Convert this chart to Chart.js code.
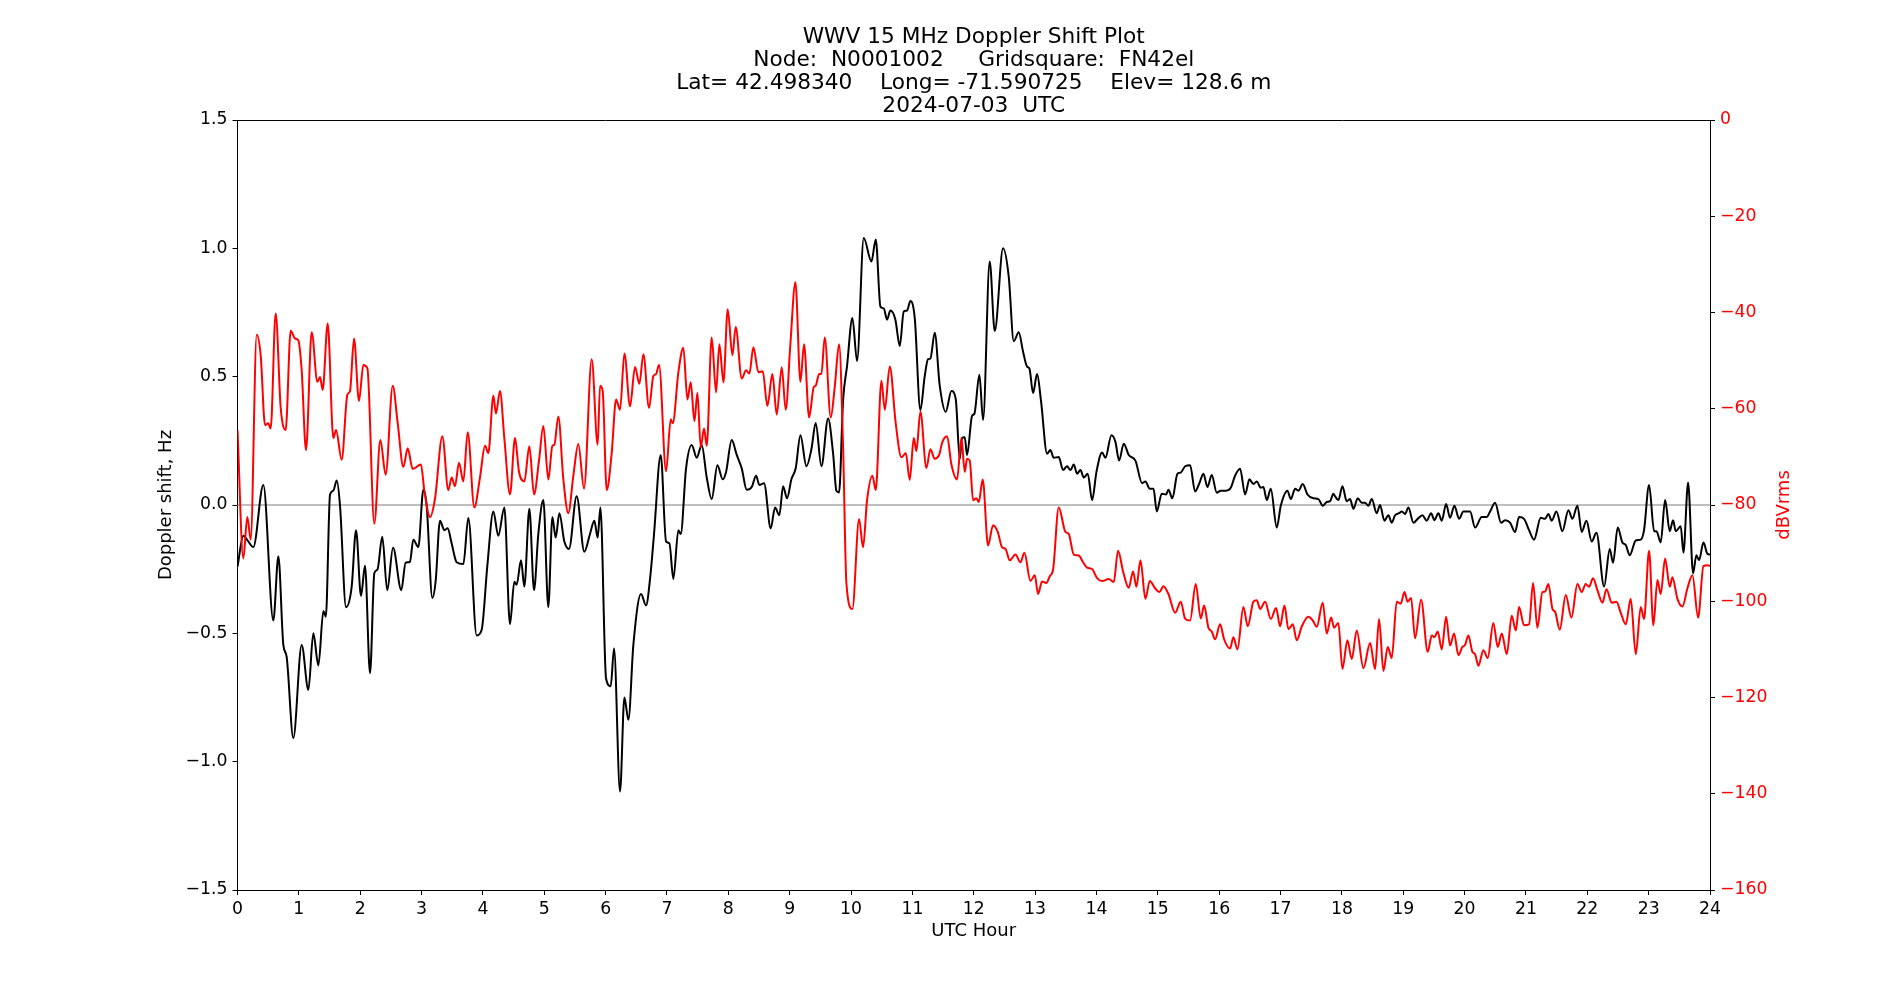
<!DOCTYPE html>
<html>
<head>
<meta charset="utf-8">
<title>WWV 15 MHz Doppler Shift Plot</title>
<script src="https://cdn.jsdelivr.net/npm/chart.js@4.4.1/dist/chart.umd.min.js"></script>
<style>
  html, body { margin: 0; padding: 0; background: #fff; }
  canvas { display: block; }
</style>
</head>
<body>
<canvas id="plot" width="1900" height="1000"></canvas>
<script>
// WWV 15 MHz Doppler shift (black, left axis) and received power (red, right axis)

const titleLines = [
    'WWV 15 MHz Doppler Shift Plot',
    'Node:  N0001002     Gridsquare:  FN42el',
    'Lat= 42.498340    Long= -71.590725    Elev= 128.6 m',
    '2024-07-03  UTC'
];

// Doppler shift, Hz
const dopplerHours = [
    0.0, 0.095, 0.17, 0.258, 0.421, 0.584, 0.666, 0.747, 0.80, 0.91, 1.046, 1.155, 1.236, 1.318, 1.40, 1.44,
    1.508, 1.562, 1.617, 1.671, 1.769, 1.861, 1.932, 2.013, 2.078, 2.16, 2.23, 2.28, 2.36, 2.44, 2.535, 2.67,
    2.74, 2.81, 2.866, 2.947, 3.029, 3.083, 3.176, 3.23, 3.30, 3.371, 3.425, 3.49, 3.572, 3.681, 3.762, 3.898,
    3.98, 4.072, 4.17, 4.251, 4.349, 4.441, 4.512, 4.55, 4.621, 4.675, 4.757, 4.833, 4.903, 4.985, 5.066, 5.132,
    5.186, 5.246, 5.327, 5.403, 5.528, 5.653, 5.745, 5.816, 5.87, 5.915, 6.007, 6.083, 6.137, 6.235, 6.306, 6.371,
    6.452, 6.577, 6.659, 6.724, 6.789, 6.898, 6.985, 7.039, 7.104, 7.186, 7.224, 7.311, 7.403, 7.485, 7.566, 7.648,
    7.729, 7.822, 7.908, 7.963, 8.055, 8.137, 8.218, 8.30, 8.381, 8.452, 8.506, 8.582, 8.691, 8.761, 8.832, 8.892,
    8.957, 9.028, 9.098, 9.175, 9.272, 9.354, 9.424, 9.517, 9.626, 9.707, 9.761, 9.805, 9.87, 9.935, 10.022, 10.098,
    10.207, 10.332, 10.403, 10.479, 10.533, 10.587, 10.641, 10.723, 10.794, 10.859, 10.913, 10.967, 11.038, 11.13, 11.201, 11.255,
    11.294, 11.364, 11.445, 11.543, 11.636, 11.706, 11.772, 11.81, 11.853, 11.891, 11.973, 12.01, 12.092, 12.152, 12.26, 12.342,
    12.478, 12.57, 12.652, 12.733, 12.804, 12.869, 12.907, 12.967, 13.032, 13.097, 13.195, 13.249, 13.304, 13.385, 13.456, 13.521,
    13.576, 13.63, 13.684, 13.739, 13.793, 13.858, 13.929, 14.0, 14.091, 14.146, 14.244, 14.309, 14.369, 14.445, 14.526, 14.635,
    14.744, 14.798, 14.869, 14.93, 14.983, 15.064, 15.135, 15.173, 15.238, 15.32, 15.374, 15.445, 15.526, 15.608, 15.678, 15.743,
    15.809, 15.879, 15.961, 16.026, 16.113, 16.189, 16.259, 16.341, 16.423, 16.493, 16.558, 16.613, 16.678, 16.721, 16.776, 16.841,
    16.939, 17.004, 17.112, 17.167, 17.238, 17.292, 17.362, 17.439, 17.536, 17.618, 17.688, 17.754, 17.808, 17.862, 17.889, 17.943,
    18.009, 18.079, 18.134, 18.188, 18.258, 18.324, 18.378, 18.432, 18.487, 18.568, 18.622, 18.693, 18.758, 18.813, 18.867, 18.932,
    18.976, 19.03, 19.084, 19.166, 19.236, 19.313, 19.383, 19.454, 19.508, 19.573, 19.628, 19.699, 19.763, 19.834, 19.91, 19.981,
    20.09, 20.171, 20.28, 20.361, 20.416, 20.497, 20.595, 20.66, 20.742, 20.823, 20.888, 20.969, 21.051, 21.132, 21.241, 21.312,
    21.366, 21.42, 21.497, 21.594, 21.692, 21.757, 21.839, 21.909, 21.986, 22.072, 22.149, 22.274, 22.366, 22.42, 22.496, 22.572,
    22.627, 22.692, 22.79, 22.871, 22.925, 23.007, 23.089, 23.127, 23.197, 23.268, 23.344, 23.398, 23.442, 23.523, 23.567, 23.643,
    23.724, 23.778, 23.822, 23.893, 23.958, 24.0
];
const dopplerHz = [
    -0.24, -0.12, -0.14, -0.164, 0.078, -0.45, -0.20, -0.545, -0.59, -0.908, -0.545, -0.72, -0.50, -0.625, -0.413, -0.435,
    0.04, 0.056, 0.095, -0.003, -0.398, -0.318, -0.098, -0.354, -0.237, -0.655, -0.266, -0.252, -0.124, -0.332, -0.167, -0.332,
    -0.225, -0.222, -0.135, -0.164, 0.059, -0.003, -0.362, -0.296, -0.061, -0.098, -0.091, -0.149, -0.223, -0.23, -0.051, -0.508,
    -0.486, -0.237, -0.025, -0.12, -0.01, -0.464, -0.299, -0.311, -0.215, -0.318, -0.015, -0.332, -0.113, 0.019, -0.398, -0.047,
    -0.127, -0.032, -0.142, -0.171, 0.034, -0.182, -0.113, -0.061, -0.127, -0.01, -0.676, -0.706, -0.559, -1.116, -0.75, -0.837,
    -0.545, -0.347, -0.391, -0.288, -0.113, 0.195, -0.142, -0.149, -0.288, -0.098, -0.113, 0.143, 0.234, 0.184, 0.234, 0.107,
    0.023, 0.155, 0.10, 0.129, 0.253, 0.195, 0.143, 0.059, 0.07, 0.114, 0.078, 0.085, -0.091, -0.01, -0.04, 0.073,
    0.026, 0.10, 0.143, 0.272, 0.151, 0.217, 0.319, 0.151, 0.337, 0.202, 0.056, 0.049, 0.407, 0.542, 0.729, 0.561,
    1.04, 0.949, 1.034, 0.773, 0.766, 0.722, 0.758, 0.722, 0.619, 0.754, 0.758, 0.795, 0.729, 0.37, 0.502, 0.568,
    0.571, 0.671, 0.466, 0.363, 0.444, 0.414, 0.18, 0.261, 0.264, 0.195, 0.348, 0.355, 0.507, 0.331, 0.949, 0.678,
    1.0, 0.89, 0.638, 0.673, 0.597, 0.539, 0.532, 0.436, 0.51, 0.404, 0.20, 0.214, 0.184, 0.187, 0.136, 0.151,
    0.136, 0.158, 0.122, 0.136, 0.107, 0.122, 0.019, 0.129, 0.205, 0.184, 0.272, 0.246, 0.173, 0.239, 0.195, 0.173,
    0.085, 0.092, 0.063, 0.063, -0.025, 0.044, 0.041, 0.059, 0.026, 0.122, 0.126, 0.151, 0.155, 0.053, 0.085, 0.122,
    0.07, 0.117, 0.048, 0.056, 0.056, 0.067, 0.114, 0.141, 0.041, 0.10, 0.082, 0.092, 0.067, 0.07, 0.019, 0.063,
    -0.088, -0.003, 0.056, 0.023, 0.063, 0.056, 0.082, 0.041, 0.026, 0.023, -0.003, 0.012, 0.015, 0.044, 0.034, 0.019,
    0.073, 0.015, 0.023, -0.015, 0.026, 0.009, 0.009, -0.003, 0.023, -0.032, 0.0, -0.061, -0.04, -0.069, -0.04, -0.032,
    -0.025, -0.035, -0.01, -0.069, -0.054, -0.04, -0.061, -0.032, -0.059, -0.032, -0.061, 0.004, -0.05, -0.003, -0.054, -0.025,
    -0.025, -0.088, -0.047, -0.047, -0.025, 0.009, -0.069, -0.059, -0.069, -0.105, -0.047, -0.054, -0.098, -0.135, -0.05, -0.054,
    -0.035, -0.061, -0.025, -0.102, -0.02, -0.054, -0.003, -0.105, -0.061, -0.142, -0.108, -0.318, -0.171, -0.225, -0.088, -0.146,
    -0.156, -0.196, -0.138, -0.135, -0.098, 0.078, -0.102, -0.102, -0.146, 0.019, -0.102, -0.059, -0.102, -0.083, -0.186, 0.088,
    -0.266, -0.196, -0.215, -0.146, -0.19, -0.193
];

// Received power, dBVrms
const powerHours = [
    0.0, 0.095, 0.16, 0.215, 0.313, 0.378, 0.449, 0.50, 0.541, 0.622, 0.704, 0.785, 0.867, 0.937, 0.992, 1.046,
    1.117, 1.209, 1.302, 1.345, 1.388, 1.47, 1.562, 1.606, 1.698, 1.79, 1.834, 1.899, 1.98, 2.051, 2.117, 2.23,
    2.328, 2.415, 2.53, 2.611, 2.703, 2.774, 2.855, 2.99, 3.045, 3.138, 3.22, 3.339, 3.436, 3.49, 3.545, 3.61,
    3.681, 3.752, 3.86, 3.952, 4.034, 4.088, 4.17, 4.213, 4.278, 4.349, 4.441, 4.523, 4.588, 4.675, 4.757, 4.833,
    4.914, 4.985, 5.066, 5.132, 5.164, 5.229, 5.311, 5.392, 5.474, 5.555, 5.648, 5.773, 5.87, 5.909, 5.952, 6.018,
    6.099, 6.17, 6.235, 6.306, 6.398, 6.479, 6.55, 6.615, 6.708, 6.778, 6.822, 6.871, 6.985, 7.061, 7.094, 7.186,
    7.267, 7.333, 7.387, 7.447, 7.496, 7.55, 7.604, 7.648, 7.729, 7.80, 7.854, 7.92, 7.99, 8.066, 8.12, 8.218,
    8.289, 8.343, 8.408, 8.49, 8.56, 8.637, 8.718, 8.789, 8.87, 8.935, 9.011, 9.093, 9.175, 9.234, 9.316, 9.392,
    9.424, 9.479, 9.517, 9.571, 9.669, 9.734, 9.805, 9.87, 9.924, 10.022, 10.131, 10.196, 10.261, 10.348, 10.403, 10.495,
    10.55, 10.631, 10.728, 10.821, 10.892, 10.957, 11.022, 11.065, 11.13, 11.228, 11.293, 11.364, 11.435, 11.489, 11.565, 11.636,
    11.728, 11.799, 11.853, 11.891, 11.935, 11.989, 12.043, 12.081, 12.146, 12.233, 12.315, 12.391, 12.462, 12.516, 12.587, 12.679,
    12.761, 12.826, 12.924, 12.994, 13.048, 13.113, 13.184, 13.239, 13.293, 13.385, 13.494, 13.548, 13.63, 13.711, 13.782, 13.847,
    13.929, 14.01, 14.091, 14.20, 14.282, 14.352, 14.434, 14.526, 14.597, 14.651, 14.717, 14.798, 14.869, 14.955, 15.026, 15.091,
    15.173, 15.282, 15.374, 15.445, 15.526, 15.618, 15.70, 15.754, 15.825, 15.879, 15.934, 16.015, 16.08, 16.178, 16.232, 16.298,
    16.395, 16.466, 16.558, 16.613, 16.667, 16.749, 16.841, 16.928, 16.993, 17.064, 17.129, 17.20, 17.265, 17.347, 17.455, 17.526,
    17.591, 17.688, 17.754, 17.824, 17.873, 17.943, 18.009, 18.09, 18.161, 18.242, 18.351, 18.46, 18.541, 18.606, 18.677, 18.748,
    18.813, 18.894, 18.959, 19.02, 19.073, 19.128, 19.193, 19.291, 19.399, 19.465, 19.508, 19.562, 19.628, 19.699, 19.763, 19.829,
    19.899, 19.964, 20.007, 20.062, 20.127, 20.171, 20.225, 20.307, 20.377, 20.469, 20.54, 20.606, 20.688, 20.769, 20.834, 20.888,
    20.969, 21.051, 21.116, 21.187, 21.268, 21.312, 21.366, 21.432, 21.475, 21.551, 21.649, 21.741, 21.839, 21.909, 21.974, 22.029,
    22.094, 22.165, 22.247, 22.312, 22.399, 22.475, 22.545, 22.627, 22.708, 22.79, 22.871, 22.925, 23.007, 23.077, 23.143, 23.197,
    23.268, 23.344, 23.387, 23.469, 23.551, 23.632, 23.714, 23.806, 23.893, 23.958, 24.0
];
const powerDb = [
    -64.5, -91.1, -82.5, -87.2, -44.6, -48.9, -63.4, -63.0, -64.1, -40.2, -59.8, -64.4, -43.8, -45.4, -45.8, -52.0,
    -68.6, -44.1, -54.4, -53.4, -56.1, -42.3, -66.1, -64.4, -70.6, -57.1, -56.3, -45.4, -58.4, -50.9, -51.6, -83.9,
    -66.5, -73.7, -55.2, -63.0, -72.1, -68.2, -72.5, -71.6, -77.0, -82.5, -78.6, -65.7, -76.9, -74.3, -76.1, -71.2,
    -75.1, -64.9, -80.5, -74.3, -67.7, -69.2, -57.3, -61.0, -56.3, -66.1, -77.8, -66.1, -73.1, -75.1, -67.8, -77.8,
    -70.8, -63.6, -74.7, -67.7, -67.5, -61.6, -74.7, -81.7, -73.9, -67.3, -76.6, -49.7, -67.5, -55.2, -56.3, -76.9,
    -69.2, -58.1, -60.2, -48.5, -59.5, -51.3, -54.8, -48.7, -59.8, -53.2, -52.8, -50.9, -73.0, -62.2, -63.0, -52.4,
    -47.3, -58.1, -54.5, -62.6, -56.7, -68.0, -64.1, -67.7, -45.2, -56.6, -46.6, -54.5, -39.3, -48.9, -43.0, -53.7,
    -52.0, -52.7, -47.2, -52.4, -52.2, -59.4, -52.8, -61.2, -51.4, -60.2, -46.6, -33.7, -54.4, -46.6, -61.8, -55.5,
    -55.2, -52.8, -52.8, -45.2, -61.8, -55.5, -46.6, -67.7, -96.2, -101.6, -82.9, -88.8, -79.0, -73.9, -76.9, -54.2,
    -60.2, -51.2, -63.0, -70.1, -69.2, -74.8, -66.1, -68.8, -60.6, -72.3, -68.4, -70.4, -69.6, -66.9, -65.7, -71.6,
    -74.7, -66.1, -73.1, -70.4, -70.8, -79.0, -78.6, -79.4, -74.7, -88.4, -84.2, -85.6, -88.8, -89.1, -91.5, -90.3,
    -91.9, -89.9, -95.8, -94.6, -98.5, -95.9, -96.2, -94.8, -93.4, -80.5, -85.6, -86.0, -90.3, -90.5, -91.9, -93.0,
    -93.3, -95.2, -95.8, -95.4, -96.0, -89.5, -93.8, -97.2, -93.8, -97.0, -91.5, -99.5, -95.8, -97.3, -98.1, -96.9,
    -98.5, -102.4, -100.1, -103.6, -104.0, -96.4, -103.6, -100.9, -105.5, -106.3, -107.9, -104.8, -107.9, -109.8, -107.5, -110.0,
    -101.2, -105.2, -100.1, -99.8, -101.6, -100.1, -103.7, -101.4, -105.2, -100.9, -105.8, -104.8, -108.1, -105.2, -103.2, -104.0,
    -105.3, -100.3, -106.7, -103.4, -105.5, -104.5, -114.1, -108.1, -112.0, -106.1, -113.9, -108.7, -114.1, -103.7, -114.5, -109.5,
    -111.8, -100.1, -100.5, -98.1, -100.1, -99.3, -107.7, -99.7, -110.5, -107.1, -107.5, -106.3, -110.0, -103.2, -109.2, -106.7,
    -111.2, -109.5, -109.1, -107.1, -110.5, -111.0, -113.4, -110.2, -111.8, -104.5, -109.5, -106.7, -111.0, -103.0, -106.1, -101.2,
    -105.0, -104.8, -96.2, -105.5, -98.1, -98.0, -96.4, -101.6, -102.2, -105.9, -98.7, -103.4, -96.4, -98.1, -96.4, -97.0,
    -95.2, -97.7, -100.3, -97.5, -100.3, -100.1, -102.4, -104.8, -99.5, -111.0, -101.2, -103.7, -89.5, -105.0, -95.6, -98.5,
    -91.1, -97.0, -95.0, -99.5, -101.1, -97.3, -94.6, -103.4, -92.7, -92.5, -92.7
];

// horizontal reference line at 0 Hz
const zeroHours = [0, 24];
const zeroHz = [0, 0];

const FONT = "'DejaVu Sans', sans-serif";
const TICK_FS = 17.3;
const LABEL_FS = 18;
const TITLE_FS = 21.7;

function minusFmt(v, digits) {
    const s = Math.abs(v).toFixed(digits);
    return (v < -1e-9 ? '\u2212' : '') + s;
}

function pairs(xs, ys) {
    return xs.map((x, i) => ({ x: x, y: ys[i] }));
}

// right-hand axis label reads bottom to top, as in the original
const rightLabel = {
    id: 'rightLabel',
    afterDraw(chart) {
        const ctx = chart.ctx;
        const a = chart.chartArea;
        ctx.save();
        ctx.translate(1784, (a.top + a.bottom) / 2);
        ctx.rotate(-Math.PI / 2);
        ctx.font = LABEL_FS + 'px ' + FONT;
        ctx.fillStyle = '#ff0000';
        ctx.textAlign = 'center';
        ctx.textBaseline = 'middle';
        ctx.fillText('dBVrms', 0, 0);
        ctx.restore();
    }
};

Chart.defaults.font.family = FONT;
Chart.defaults.font.size = TICK_FS;
Chart.defaults.color = '#000';

new Chart(document.getElementById('plot'), {
    type: 'line',
    data: {
        datasets: [
            {
                label: 'dBVrms',
                data: pairs(powerHours, powerDb),
                yAxisID: 'y2',
                borderColor: '#ff0000',
                borderWidth: 2,
                pointRadius: 0,
                cubicInterpolationMode: 'monotone',
                order: 0
            },
            {
                label: 'Doppler shift',
                data: pairs(dopplerHours, dopplerHz),
                yAxisID: 'y',
                borderColor: '#000000',
                borderWidth: 2,
                pointRadius: 0,
                cubicInterpolationMode: 'monotone',
                order: 1
            },
            {
                label: 'zero',
                data: pairs(zeroHours, zeroHz),
                yAxisID: 'y',
                borderColor: '#808080',
                borderWidth: 1.2,
                pointRadius: 0,
                order: 2
            }
        ]
    },
    options: {
        responsive: false,
        animation: false,
        events: [],
        layout: { padding: 0 },
        plugins: {
            legend: { display: false },
            tooltip: { enabled: false },
            title: {
                display: true,
                text: titleLines,
                fullSize: false,
                color: '#000',
                font: { size: TITLE_FS, weight: 'normal', lineHeight: 23 / TITLE_FS },
                padding: { top: 25.5, bottom: 2.5 }
            }
        },
        scales: {
            x: {
                type: 'linear',
                position: 'bottom',
                min: 0, max: 24,
                ticks: { stepSize: 1, autoSkip: false, maxRotation: 0, padding: 4, color: '#000' },
                grid: { drawOnChartArea: false, tickLength: 5, tickColor: '#000' },
                border: { color: '#000', width: 1 },
                title: { display: true, text: 'UTC Hour', color: '#000', font: { size: LABEL_FS }, padding: { top: 0, bottom: 58 } },
                afterFit: s => { s.height = 110; }
            },
            xTop: {
                type: 'linear',
                position: 'top',
                min: 0, max: 24,
                ticks: { display: false },
                grid: { drawOnChartArea: false, drawTicks: false },
                border: { color: '#000', width: 1 },
                afterFit: s => { s.height = 0; }
            },
            y: {
                position: 'left',
                min: -1.5, max: 1.5,
                ticks: { stepSize: 0.5, padding: 5, color: '#000', callback: v => minusFmt(v, 1) },
                grid: { drawOnChartArea: false, tickLength: 5, tickColor: '#000' },
                border: { color: '#000', width: 1 },
                title: { display: true, text: 'Doppler shift, Hz', color: '#000', font: { size: LABEL_FS }, padding: { top: 156, bottom: 0 } },
                afterFit: s => { s.width = 237.5; }
            },
            y2: {
                position: 'right',
                min: -160, max: 0,
                ticks: { stepSize: 20, padding: 5, color: '#ff0000', callback: v => minusFmt(v, 0) },
                grid: { drawOnChartArea: false, tickLength: 5, tickColor: '#000' },
                border: { color: '#000', width: 1 },
                afterFit: s => { s.width = 190; }
            }
        }
    },
    plugins: [rightLabel]
});
</script>
</body>
</html>
